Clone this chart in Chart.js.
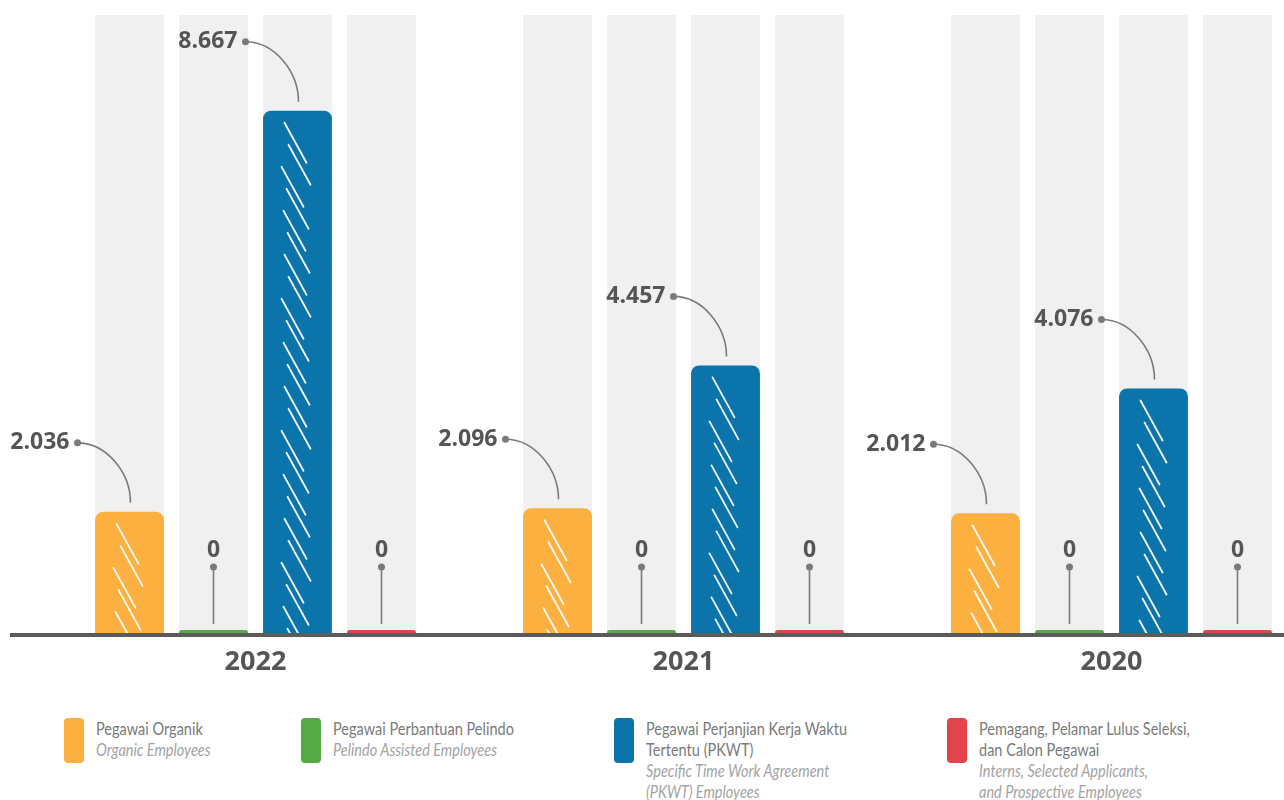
<!DOCTYPE html>
<html>
<head>
<meta charset="utf-8">
<script src="https://cdn.jsdelivr.net/npm/chart.js@4.4.1/dist/chart.umd.min.js"></script>
<style>
body { margin: 0; background: #fff; overflow: hidden; width: 1284px; height: 800px; position: relative; }
#wrap { position: absolute; left: 0; top: 0; width: 1330px; height: 690px; }
.leg { position: absolute; top: 718px; display: flex; font-family: Lato, sans-serif; font-size: 17.5px; line-height: 21px; }
.sw { width: 20px; height: 45px; border-radius: 4px; margin-right: 12px; flex: none; }
.txt { transform: scaleX(0.83); transform-origin: left top; white-space: nowrap; }
.t1 { color: #7a7a7a; }
.t2 { color: #a3a3a3; font-style: italic; }
</style>
</head>
<body>
<div id="wrap"><canvas id="c" width="1330" height="690"></canvas></div>
<div id="legend"></div>
<script>
const years = ['2022', '2021', '2020'];
const organik = [2036, 2096, 2012];
const perbantuan = [0, 0, 0];
const pkwt = [8667, 4457, 4076];
const pemagang = [0, 0, 0];

const seriesNames = [
    ['Pegawai Organik'],
    ['Pegawai Perbantuan Pelindo'],
    ['Pegawai Perjanjian Kerja Waktu', 'Tertentu (PKWT)'],
    ['Pemagang, Pelamar Lulus Seleksi,', 'dan Calon Pegawai']
];
const seriesNamesEn = [
    ['Organic Employees'],
    ['Pelindo Assisted Employees'],
    ['Specific Time Work Agreement', '(PKWT) Employees'],
    ['Interns, Selected Applicants,', 'and Prospective Employees']
];
const colors = ['#fbb040', '#56aa46', '#0b75ab', '#e1444b'];
const legendX = [64, 301, 614, 947];

function fmt(v) {
    return String(v).replace(/\B(?=(\d{3})+(?!\d))/g, '.');
}

// legend (html, two fonts)
const leg = document.getElementById('legend');
seriesNames.forEach((n, i) => {
    const d = document.createElement('div');
    d.className = 'leg';
    d.style.left = legendX[i] + 'px';
    d.innerHTML = '<div class="sw" style="background:' + colors[i] + '"></div><div class="txt">' +
        n.map(s => '<div class="t1">' + s + '</div>').join('') +
        seriesNamesEn[i].map(s => '<div class="t2">' + s + '</div>').join('') + '</div>';
    leg.appendChild(d);
});

const decor = {
    id: 'decor',
    beforeDatasetsDraw(chart) {
        const c = chart.ctx, a = chart.chartArea;
        c.save();
        c.fillStyle = '#f0f0f0';
        chart.data.datasets.forEach((ds, i) => {
            chart.getDatasetMeta(i).data.forEach(bar => {
                c.fillRect(bar.x - bar.width / 2, a.top, bar.width, a.bottom - a.top);
            });
        });
        c.restore();
    },
    afterDatasetsDraw(chart) {
        const c = chart.ctx, a = chart.chartArea;
        c.save();
        // hatch strokes
        const offs = [0, 4, -3, 2, -1, 3];
        chart.data.datasets.forEach((ds, i) => {
            chart.getDatasetMeta(i).data.forEach((bar, j) => {
                if (ds.data[j] <= 0) return;
                const l = bar.x - bar.width / 2;
                c.save();
                c.beginPath();
                c.rect(l, bar.y, bar.width, bar.base - bar.y);
                c.clip();
                c.strokeStyle = 'rgba(255,255,255,0.95)';
                c.lineWidth = 1.8;
                c.lineCap = 'round';
                let k = 0;
                for (let y = bar.y + 12; y < bar.base; y += 22) {
                    const o = offs[k % offs.length];
                    c.beginPath();
                    c.moveTo(bar.x - 13 + o, y);
                    c.lineTo(bar.x + 9 + o, y + 40);
                    c.stroke();
                    k++;
                }
                c.restore();
            });
        });
        // axis line
        c.fillStyle = '#5b5b5b';
        c.fillRect(10, a.bottom - 2, chart.width, 4);
        // value labels
        c.strokeStyle = '#7a7a7a';
        c.lineWidth = 1.6;
        c.font = 'bold 23px "Open Sans", sans-serif';
        c.textBaseline = 'middle';
        chart.data.datasets.forEach((ds, i) => {
            chart.getDatasetMeta(i).data.forEach((bar, j) => {
                const v = ds.data[j];
                if (v > 0) {
                    const x0 = bar.x - 52, y0 = bar.y - 69;
                    const x1 = bar.x + 1, y1 = bar.y - 9;
                    c.beginPath();
                    c.moveTo(x0, y0);
                    c.bezierCurveTo(x0 + (x1 - x0) * 0.55, y0, x1, y1 - (y1 - y0) * 0.5, x1, y1);
                    c.stroke();
                    c.beginPath();
                    c.arc(x0, y0, 3.5, 0, Math.PI * 2);
                    c.fillStyle = '#7a7a7a';
                    c.fill();
                    c.fillStyle = '#555';
                    c.textAlign = 'right';
                    c.fillText(fmt(v), x0 - 8, y0);
                } else {
                    const yd = a.bottom - 68;
                    c.beginPath();
                    c.moveTo(bar.x, yd);
                    c.lineTo(bar.x, a.bottom - 11);
                    c.stroke();
                    c.beginPath();
                    c.arc(bar.x, yd, 3.5, 0, Math.PI * 2);
                    c.fillStyle = '#7a7a7a';
                    c.fill();
                    c.fillStyle = '#555';
                    c.textAlign = 'center';
                    c.fillText(fmt(v), bar.x, a.bottom - 85);
                }
            });
        });
        c.restore();
    }
};

const allSeries = [organik, perbantuan, pkwt, pemagang];

new Chart(document.getElementById('c'), {
    type: 'bar',
    data: {
        labels: years,
        datasets: allSeries.map((d, i) => ({
            label: seriesNames[i].join(' '),
            data: d,
            backgroundColor: colors[i],
            borderRadius: { topLeft: 8, topRight: 8, bottomLeft: 0, bottomRight: 0 },
            borderSkipped: 'bottom',
            minBarLength: 5,
            barPercentage: 0.82,
            categoryPercentage: 0.785
        }))
    },
    options: {
        responsive: false,
        animation: false,
        layout: { padding: { left: 41.5, right: 4.5, top: 15, bottom: 8.6 } },
        plugins: { legend: { display: false }, tooltip: { enabled: false } },
        scales: {
            x: {
                grid: { display: false },
                border: { display: false },
                ticks: {
                    padding: 3,
                    color: '#555',
                    font: { family: '"Open Sans", sans-serif', size: 27, weight: 'bold', lineHeight: 1.2 }
                }
            },
            y: {
                display: false,
                min: 0,
                max: 10250
            }
        }
    },
    plugins: [decor]
});
</script>
</body>
</html>
